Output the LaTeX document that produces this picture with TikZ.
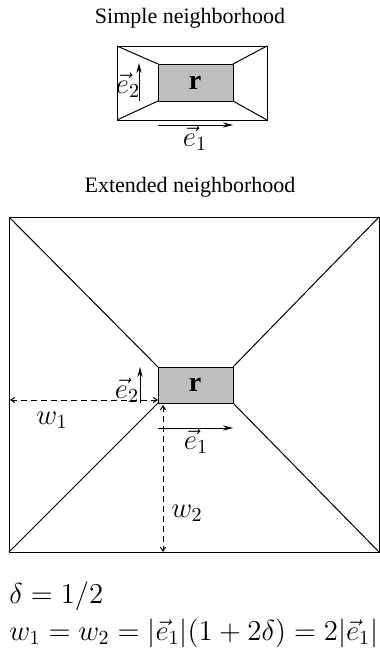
\documentclass[tikz,border=0pt]{standalone}
\usepackage{fontspec}
\setmainfont{Liberation Serif}
\usetikzlibrary{arrows.meta}
\tikzset{
  edge/.style={line width=0.5pt},
  region/.style={line width=0.5pt, fill=black!25},
  vecarrow/.style={line width=0.5pt, -{Stealth[length=5pt,width=2.6pt]}},
  dimline/.style={line width=0.5pt, dash pattern=on 3pt off 2pt, {Straight Barb[length=2pt,width=2.6pt]}-{Straight Barb[length=2pt,width=2.6pt]}},
  title/.style={font=\fontsize{11}{13}\selectfont, anchor=base},
  mlabel/.style={font=\fontsize{14}{17}\selectfont, inner sep=0pt},
}
\begin{document}
\begin{tikzpicture}[x=0.5pt,y=-0.5pt]
\useasboundingbox (0,0) rectangle (380,654);
% ---- Simple neighborhood ----
\node[title] (t1) at (190,23) {Simple neighborhood};
\coordinate (sA) at (117,46); \coordinate (sB) at (267,46);
\coordinate (sC) at (267,120); \coordinate (sD) at (117,120);
\coordinate (sa) at (158,64); \coordinate (sb) at (233,64);
\coordinate (sc) at (233,101); \coordinate (sd) at (158,101);
\draw[edge] (sA) rectangle (sC);
\draw[region] (sa) rectangle (sc);
\draw[edge] (sA) -- (sa) (sB) -- (sb) (sC) -- (sc) (sD) -- (sd);
\node[mlabel] (sr) at (195,83) {$\mathbf{r}$};
\coordinate (se2s) at (139,101); \coordinate (se2e) at (139,63);
\draw[vecarrow] (se2s) -- (se2e);
\node[mlabel] (se2) at (128,85) {$\vec e_2$};
\coordinate (se1s) at (158,125); \coordinate (se1e) at (233,125);
\draw[vecarrow] (se1s) -- (se1e);
\node[mlabel] (se1) at (195,138) {$\vec e_1$};
% ---- Extended neighborhood ----
\node[title] (t2) at (190,192) {Extended neighborhood};
\coordinate (A) at (9,217); \coordinate (B) at (379,217);
\coordinate (C) at (379,552); \coordinate (D) at (9,552);
\coordinate (a) at (158,367); \coordinate (b) at (233,367);
\coordinate (c) at (233,403); \coordinate (d) at (158,403);
\draw[edge] (A) rectangle (C);
\draw[region] (a) rectangle (c);
\draw[edge] (A) -- (a) (B) -- (b) (C) -- (c) (D) -- (d);
\node[mlabel] (r) at (195,385) {$\mathbf{r}$};
\coordinate (e2s) at (140,403); \coordinate (e2e) at (140,367);
\draw[vecarrow] (e2s) -- (e2e);
\node[mlabel] (e2) at (127,390) {$\vec e_2$};
\coordinate (e1s) at (158,428); \coordinate (e1e) at (233,428);
\draw[vecarrow] (e1s) -- (e1e);
\node[mlabel] (e1) at (196,441) {$\vec e_1$};
% dimension lines
\coordinate (w1l) at (10,400); \coordinate (w1r) at (158,400);
\draw[dimline] (w1l) -- (w1r);
\node[mlabel] (w1) at (52,420) {$w_1$};
\coordinate (w2t) at (163,405); \coordinate (w2b) at (163,552);
\draw[dimline] (w2t) -- (w2b);
\node[mlabel] (w2) at (187,513) {$w_2$};
% equations
\node[mlabel, anchor=base west] (eq1) at (9,603) {$\delta = 1/2$};
\node[mlabel, anchor=base west] (eq2) at (9,640) {$w_1 = w_2 = |\vec e_1|(1+2\delta) = 2|\vec e_1|$};
\end{tikzpicture}
\end{document}
